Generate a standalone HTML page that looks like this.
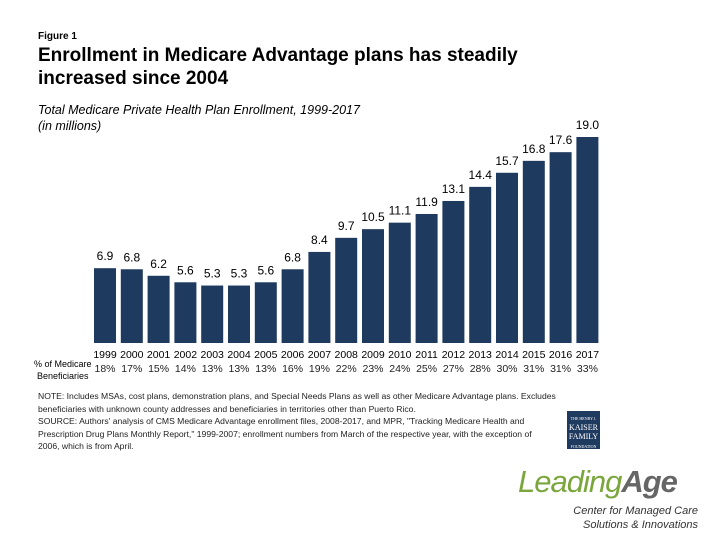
<!DOCTYPE html>
<html><head><meta charset="utf-8"><style>
body{margin:0;background:#fff;font-family:"Liberation Sans",sans-serif;}
#c{position:relative;width:720px;height:540px;overflow:hidden;}
.t{position:absolute;white-space:nowrap;color:#000;}
</style></head><body><div id="c">
<div class="t" style="left:38px;top:31px;font-size:10px;font-weight:bold">Figure 1</div>
<div class="t" style="left:38px;top:44px;font-size:19px;font-weight:bold;line-height:23px">Enrollment in Medicare Advantage plans has steadily<br>increased since 2004</div>
<div class="t" style="left:38px;top:102px;font-size:12.5px;font-style:italic;line-height:16px">Total Medicare Private Health Plan Enrollment, 1999-2017<br>(in millions)</div>
<svg id="s" width="720" height="390" style="position:absolute;left:0;top:0"></svg>
<div class="t" style="left:34px;top:358px;font-size:9px;line-height:12px;text-align:center">% of Medicare<br>Beneficiaries</div>
<div class="t" style="left:38px;top:390px;font-size:8.6px;line-height:12.5px;color:#222">NOTE: Includes MSAs, cost plans, demonstration plans, and Special Needs Plans as well as other Medicare Advantage plans. Excludes<br>beneficiaries with unknown county addresses and beneficiaries in territories other than Puerto Rico.<br>SOURCE: Authors' analysis of CMS Medicare Advantage enrollment files, 2008-2017, and MPR, "Tracking Medicare Health and<br>Prescription Drug Plans Monthly Report," 1999-2007; enrollment numbers from March of the respective year, with the exception of<br>2006, which is from April.</div>
<div style="position:absolute;left:567px;top:411px;width:33px;height:38px;background:#1f3a5f;color:#fff;font-family:'Liberation Serif',serif;font-size:8px;text-align:center;line-height:9px;padding-top:2px;box-sizing:border-box"><span style="font-size:4px">THE HENRY J.</span><br>KAISER<br>FAMILY<br><span style="font-size:4px">FOUNDATION</span></div>
<div class="t" style="left:518px;top:464px;font-size:31px;font-style:italic;color:#7aa63c;letter-spacing:-1px">Leading<b style="color:#666">Age</b></div>
<div class="t" style="left:568px;top:504px;font-size:11px;font-style:italic;color:#333;line-height:14px;text-align:right;right:auto"><div style="position:absolute;right:-130px;width:200px;text-align:right;top:0">Center for Managed Care<br>Solutions &amp; Innovations</div></div>
</div>
<script>
const years=["1999","2000","2001","2002","2003","2004","2005","2006","2007","2008","2009","2010","2011","2012","2013","2014","2015","2016","2017"];
const enrollment=[6.9,6.8,6.2,5.6,5.3,5.3,5.6,6.8,8.4,9.7,10.5,11.1,11.9,13.1,14.4,15.7,16.8,17.6,19.0];
const pctBeneficiaries=["18%","17%","15%","14%","13%","13%","13%","16%","19%","22%","23%","24%","25%","27%","28%","30%","31%","31%","33%"];
const s=document.getElementById('s');const NS='http://www.w3.org/2000/svg';
const x0=94,step=26.8,bw=22,base=343,py=206/19;
const xs=i=>x0+i*step, ys=v=>base-v*py;
function mk(tag,attrs,txt){const e=document.createElementNS(NS,tag);for(const k in attrs)e.setAttribute(k,attrs[k]);if(txt!=null)e.textContent=txt;s.appendChild(e);return e;}
enrollment.forEach((v,i)=>{
 const r=mk('rect',{x:xs(i),y:ys(v),width:bw,height:base-ys(v),fill:'#1f3a5f'});
 
 
 const l=mk('text',{x:xs(i)+bw/2,y:ys(v)-8,'text-anchor':'middle','font-size':'12','font-family':'Liberation Sans'},v.toFixed(1));
 
 
 const yl=mk('text',{x:xs(i)+bw/2,y:358,'text-anchor':'middle','font-size':'10.5','font-family':'Liberation Sans'},years[i]);
 
 
 const pl=mk('text',{x:xs(i)+bw/2,y:372,'text-anchor':'middle','font-size':'10.5','font-family':'Liberation Sans','fill':'#222'},pctBeneficiaries[i]);
 
 
});
</script>
</body></html>
